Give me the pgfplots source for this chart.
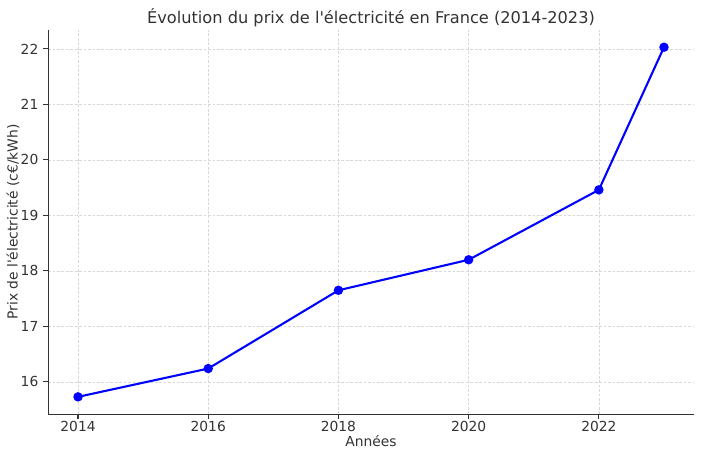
\documentclass[border=0pt]{standalone}
\usepackage{fontspec}
\setmainfont{DejaVu Sans}
\usepackage{pgfplots}
\pgfplotsset{compat=1.18}
\definecolor{txt}{HTML}{333333}
\definecolor{gridc}{HTML}{D8D8D8}
\begin{document}
\begin{tikzpicture}
\path[use as bounding box] (-34.6bp,-32.4bp) rectangle (470.8bp,298.1bp);
\begin{axis}[
  at={(0,0)}, anchor=south west,
  scale only axis,
  width=465bp, height=276.5bp,
  xmin=2013.54, xmax=2023.46,
  ymin=15.42, ymax=22.34,
  axis lines=left,
  axis line style={-, draw=txt, line width=0.8bp},
  xtick={2014,2016,2018,2020,2022},
  ytick={16,17,18,19,20,21,22},
  xticklabel style={/pgf/number format/1000 sep={}, yshift=1.5bp},
  /pgf/number format/assume math mode=true,
  tick style={draw=txt, line width=0.8bp},
  tick align=outside,
  major tick length=3.5bp,
  tick label style={font=\fontsize{10}{12}\selectfont, text=txt},
  grid=major,
  major grid style={dash pattern=on 2bp off 1.2bp, draw=gridc, line width=0.5bp},
  title={Évolution du prix de l\textquotesingle électricité en France (2014-2023)},
  title style={font=\fontsize{11.7}{14}\selectfont, text=txt, yshift=-7bp},
  xlabel={Années},
  ylabel={Prix de l\textquotesingle électricité (c€/kWh)},
  label style={font=\fontsize{10}{12}\selectfont, text=txt},
  xlabel style={yshift=4.5bp},
  ylabel style={yshift=-6bp},
]
\addplot[color=blue, line width=1.5bp, mark=*, mark size=2.6bp, mark options={fill=blue, draw=blue}]
  coordinates {(2014,15.73) (2016,16.24) (2018,17.65) (2020,18.20) (2022,19.46) (2023,22.03)};
\end{axis}
\end{tikzpicture}
\end{document}
